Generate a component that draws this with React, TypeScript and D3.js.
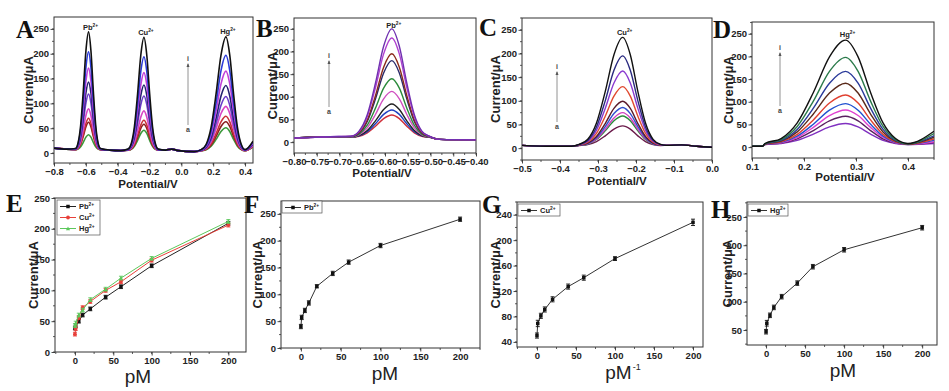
import { useEffect, useRef } from "react"
import * as d3 from "d3"

// concentrations (pM) used for curves a → i
const concentrations = [0, 1, 5, 10, 20, 40, 60, 100, 200]
const ionNames = ["Pb", "Cu", "Hg"]

// peak currents (μA) of the voltammograms, curve a → i
const aPbPeaks = [31, 56, 64, 83, 113, 137, 165, 198, 238]
const aCuPeaks = [41, 53, 61, 80, 110, 132, 157, 189, 228]
const aHgPeaks = [47, 59, 70, 90, 110, 132, 161, 193, 230]
const bPbPeaks = [50, 61, 74, 102, 130, 170, 185, 220, 240]
const cCuPeaks = [42, 63, 70, 81, 94, 125, 158, 190, 229]
const dHgPeaks = [47, 63, 77, 91, 110, 136, 162, 193, 231]

// current at the right end of the scan, curve a → i
const aTailValues = [12, 13, 14, 15, 17, 18, 20, 22, 24]
const dTailValues = [8, 10, 12, 15, 18, 22, 25, 30, 35]

// normalized peak profile (offset in half widths, relative height)
const profileOffsets = [-2.5, -2, -1.5, -1, -0.5, 0, 0.5, 1, 1.5, 2, 2.5]
const profileHeights = [0.013, 0.06, 0.21, 0.5, 0.84, 1, 0.84, 0.5, 0.21, 0.06, 0.013]

// baseline points [potential V, current μA]
const aBaseline = [[-0.8, 10], [-0.72, 8], [-0.45, 6], [-0.38, 5], [-0.1, 6], [-0.06, 8], [-0.02, 5], [0.08, 3]]
const bBaseline = [[-0.8, 9], [-0.72, 12], [-0.48, 6], [-0.4, 5]]
const cBaseline = [[-0.5, 6], [-0.42, 4], [-0.37, 4], [-0.12, 6], [-0.08, 7], [-0.04, 4], [0.0, 2]]
const dBaseline = [[0.1, 2], [0.12, 2]]

// calibration plots, current (μA) vs concentration
const ePb = [39, 43, 50, 60, 70, 89, 106, 140, 209]
const eCu = [29, 38, 56, 72, 82, 100, 114, 149, 206]
const eHg = [43, 47, 60, 68, 85, 102, 120, 152, 212]
const fPb = [40, 57, 70, 84, 115, 139, 160, 191, 240]
const gCu = [50, 69, 81, 91, 107, 127, 141, 171, 228]
const hHg = [47, 62, 76, 90, 109, 133, 162, 192, 231]
const fErr = [4, 4, 4, 4, 3, 4, 4, 4, 4]
const gErr = [4, 5, 4, 4, 4, 4, 4, 3, 5]
const hErr = [4, 5, 4, 4, 4, 4, 4, 4, 4]
const eErr = [3, 3, 3, 3, 3, 3, 3, 3, 3]

// tick values
const aXTicks = [-0.8, -0.6, -0.4, -0.2, 0.0, 0.2, 0.4]
const bXTicks = [-0.8, -0.75, -0.7, -0.65, -0.6, -0.55, -0.5, -0.45, -0.4]
const cXTicks = [-0.5, -0.4, -0.3, -0.2, -0.1, 0.0]
const dXTicks = [0.1, 0.2, 0.3, 0.4]
const voltYTicks = [0, 50, 100, 150, 200, 250]
const concXTicks = [0, 50, 100, 150, 200]
const gYTicks = [40, 80, 120, 160, 200, 240]
const hYTicks = [50, 100, 150, 200, 250]

const SANS = "'Liberation Sans', Arial, sans-serif"
const SERIF = "'Liberation Serif', 'Times New Roman', serif"

type Sel = d3.Selection<SVGGElement, unknown, null, undefined>

interface Frame {
  x0: number
  x1: number
  y0: number
  y1: number
  xDomain: [number, number]
  yDomain: [number, number]
}

function drawFrame(g: Sel, f: Frame, id: string, xTicks: number[], yTicks: number[], xFmt: (v: number) => string, minorX: number, minorY: number) {
  const x = d3.scaleLinear().domain(f.xDomain).range([f.x0, f.x1])
  const y = d3.scaleLinear().domain(f.yDomain).range([f.y1, f.y0])

  g.append("clipPath")
    .attr("id", id)
    .append("rect")
    .attr("x", f.x0)
    .attr("y", f.y0)
    .attr("width", f.x1 - f.x0)
    .attr("height", f.y1 - f.y0)

  // minor ticks
  const xm = d3.range(Math.ceil(f.xDomain[0] / minorX), Math.floor(f.xDomain[1] / minorX) + 1).map((k) => k * minorX)
  const ym = d3.range(Math.ceil(f.yDomain[0] / minorY), Math.floor(f.yDomain[1] / minorY) + 1).map((k) => k * minorY)
  g.selectAll(null)
    .data(xm)
    .enter()
    .append("line")
    .attr("x1", (d) => x(d))
    .attr("x2", (d) => x(d))
    .attr("y1", f.y1)
    .attr("y2", f.y1 + 2)
    .attr("stroke", "#333")
    .attr("stroke-width", 0.8)
  g.selectAll(null)
    .data(ym)
    .enter()
    .append("line")
    .attr("x1", f.x0)
    .attr("x2", f.x0 - 2)
    .attr("y1", (d) => y(d))
    .attr("y2", (d) => y(d))
    .attr("stroke", "#333")
    .attr("stroke-width", 0.8)

  const xAxis = g
    .append("g")
    .attr("transform", `translate(0,${f.y1})`)
    .call(d3.axisBottom(x).tickValues(xTicks).tickSize(3.5).tickSizeOuter(0).tickPadding(2).tickFormat((d) => xFmt(+d)))
  const yAxis = g
    .append("g")
    .attr("transform", `translate(${f.x0},0)`)
    .call(d3.axisLeft(y).tickValues(yTicks).tickSize(3.5).tickSizeOuter(0).tickPadding(1.5))
  ;[xAxis, yAxis].forEach((a) => {
    a.select(".domain").remove()
    a.selectAll("line").attr("stroke", "#333").attr("stroke-width", 0.9)
    a.selectAll("text")
      .attr("fill", "#222")
      .style("font-family", SANS)
      .style("font-weight", "bold")
      .style("font-size", "9.5px")
  })

  g.append("rect")
    .attr("x", f.x0)
    .attr("y", f.y0)
    .attr("width", f.x1 - f.x0)
    .attr("height", f.y1 - f.y0)
    .attr("fill", "none")
    .attr("stroke", "#333")
    .attr("stroke-width", 1)
  return { x, y }
}

function ionText(g: Sel, ion: string, px: number, py: number, size: number, anchor: string) {
  const t = g
    .append("text")
    .attr("x", px)
    .attr("y", py)
    .attr("text-anchor", anchor)
    .style("font-family", SANS)
    .style("font-weight", "bold")
    .style("font-size", `${size}px`)
    .attr("fill", "#222")
  t.append("tspan").text(ion)
  t.append("tspan").attr("dy", -size * 0.4).style("font-size", `${size * 0.65}px`).text("2+")
  return t
}

function axisTitles(g: Sel, f: Frame, yx: number, xText: string, xy: number, xSize: number, xBold: boolean, xcx?: number, sup?: string) {
  g.append("text")
    .attr("transform", `translate(${yx},${(f.y0 + f.y1) / 2}) rotate(-90)`)
    .attr("text-anchor", "middle")
    .attr("dy", "0.35em")
    .style("font-family", SANS)
    .style("font-weight", "bold")
    .style("font-size", "13px")
    .attr("fill", "#222")
    .text("Current/μA")
  const t = g
    .append("text")
    .attr("x", xcx ?? (f.x0 + f.x1) / 2)
    .attr("y", xy)
    .attr("text-anchor", "middle")
    .style("font-family", SANS)
    .style("font-weight", xBold ? "bold" : "normal")
    .style("font-size", `${xSize}px`)
    .attr("fill", "#222")
  t.append("tspan").text(xText)
  if (sup) t.append("tspan").attr("dx", 1).attr("dy", -xSize * 0.5).style("font-size", "9px").text(sup)
}

function panelLetter(g: Sel, letter: string, px: number, py: number) {
  g.append("text")
    .attr("x", px)
    .attr("y", py)
    .style("font-family", SERIF)
    .style("font-weight", "bold")
    .style("font-size", "25px")
    .attr("fill", "#111")
    .text(letter)
}

interface Peak {
  center: number
  hwL: number
  hwR: number
  base: number
  heights: number[]
  ion: string
}

function buildCurve(anchors: number[][], peaks: Peak[], idx: number, tail?: [number, number]) {
  const pts: [number, number][] = anchors.map((a) => [a[0], a[1]])
  peaks.forEach((p) => {
    profileOffsets.forEach((k, j) => {
      const hw = k < 0 ? p.hwL : p.hwR
      pts.push([p.center + k * hw, p.base + p.heights[idx] * profileHeights[j]])
    })
  })
  if (tail) pts.push(tail)
  return pts.sort((a, b) => a[0] - b[0])
}

interface VoltPanel {
  frame: Frame
  id: string
  xTicks: number[]
  fmt: (v: number) => string
  minorX: number
  anchors: number[][]
  peaks: Peak[]
  tails?: number[]
  colors: string[]
  width: number
  letter: [string, number, number]
  arrow: [number, number, number]
  yTitleX: number
  xTitleY: number
  xTitleX: number
}

function drawVolt(g: Sel, p: VoltPanel) {
  const { x, y } = drawFrame(g, p.frame, p.id, p.xTicks, voltYTicks, p.fmt, p.minorX, 25)
  const line = d3
    .line<[number, number]>()
    .x((d) => x(d[0]))
    .y((d) => y(d[1]))
    .curve(d3.curveMonotoneX)
  const cg = g.append("g").attr("clip-path", `url(#${p.id})`)
  concentrations.forEach((_, i) => {
    const tail: [number, number] | undefined = p.tails ? [p.frame.xDomain[1], p.tails[i]] : undefined
    cg.append("path")
      .attr("d", line(buildCurve(p.anchors, p.peaks, i, tail)))
      .attr("fill", "none")
      .attr("stroke", p.colors[i])
      .attr("stroke-width", p.width)
  })
  p.peaks.forEach((pk) => {
    ionText(g, pk.ion, x(pk.center) + 2, y(d3.max(pk.heights)!) - 5, 7.5, "middle")
  })
  // arrow a → i
  const [ax, top, bottom] = p.arrow
  g.append("line").attr("x1", ax).attr("x2", ax).attr("y1", top + 6).attr("y2", bottom).attr("stroke", "#777").attr("stroke-width", 0.8)
  g.append("path")
    .attr("d", `M${ax - 1.5},${top + 9} L${ax},${top + 5} L${ax + 1.5},${top + 9} Z`)
    .attr("fill", "#555")
  g.append("text").attr("x", ax).attr("y", top + 3).attr("text-anchor", "middle").style("font-family", SANS).style("font-weight", "bold").style("font-size", "7px").attr("fill", "#444").text("i")
  g.append("text").attr("x", ax).attr("y", bottom + 7).attr("text-anchor", "middle").style("font-family", SANS).style("font-weight", "bold").style("font-size", "7px").attr("fill", "#444").text("a")

  axisTitles(g, p.frame, p.yTitleX, "Potential/V", p.xTitleY, 11.5, true, p.xTitleX)
  panelLetter(g, p.letter[0], p.letter[1], p.letter[2])
}

interface CalSeries {
  ion: string
  values: number[]
  err: number[]
  color: string
  lineColor: string
  marker: "square" | "circle" | "triangle"
}

function marker(g: Sel, kind: string, cx: number, cy: number, color: string, s: number) {
  if (kind === "circle") {
    g.append("circle").attr("cx", cx).attr("cy", cy).attr("r", s * 0.55).attr("fill", color)
  } else if (kind === "triangle") {
    g.append("path")
      .attr("d", `M${cx},${cy - s * 0.6} L${cx + s * 0.6},${cy + s * 0.5} L${cx - s * 0.6},${cy + s * 0.5} Z`)
      .attr("fill", color)
  } else {
    g.append("rect").attr("x", cx - s / 2).attr("y", cy - s / 2).attr("width", s).attr("height", s).attr("fill", color)
  }
}

interface CalPanel {
  frame: Frame
  id: string
  yTicks: number[]
  minorY: number
  series: CalSeries[]
  legend: [number, number, number, number]
  letter: [string, number, number]
  yTitleX: number
  xTitleY: number
  xTitleX: number
  sup?: string
}

function drawCal(g: Sel, p: CalPanel) {
  const { x, y } = drawFrame(g, p.frame, p.id, concXTicks, p.yTicks, (v) => `${v}`, 25, p.minorY)
  const line = d3
    .line<number>()
    .x((_, i) => x(concentrations[i]))
    .y((d) => y(d))
  p.series.forEach((s) => {
    g.append("path").attr("d", line(s.values)).attr("fill", "none").attr("stroke", s.lineColor).attr("stroke-width", 1)
    s.values.forEach((v, i) => {
      const cx = x(concentrations[i])
      const e = s.err[i]
      g.append("line").attr("x1", cx).attr("x2", cx).attr("y1", y(v - e)).attr("y2", y(v + e)).attr("stroke", s.color).attr("stroke-width", 0.9)
      ;[v - e, v + e].forEach((ev) =>
        g.append("line").attr("x1", cx - 2).attr("x2", cx + 2).attr("y1", y(ev)).attr("y2", y(ev)).attr("stroke", s.color).attr("stroke-width", 0.9)
      )
      marker(g, s.marker, cx, y(v), s.color, 3.5)
    })
  })

  // legend
  const [lx, ly, lw, lh] = p.legend
  g.append("rect").attr("x", lx).attr("y", ly).attr("width", lw).attr("height", lh).attr("fill", "#fff").attr("stroke", "#555").attr("stroke-width", 0.7)
  p.series.forEach((s, i) => {
    const cy = ly + 6.5 + i * 11
    g.append("line").attr("x1", lx + 3).attr("x2", lx + 19).attr("y1", cy).attr("y2", cy).attr("stroke", s.lineColor).attr("stroke-width", 1)
    marker(g, s.marker, lx + 11, cy, s.color, 3.5)
    ionText(g, s.ion, lx + 22, cy + 2.7, 7.5, "start")
  })

  axisTitles(g, p.frame, p.yTitleX, "pM", p.xTitleY, 19, false, p.xTitleX, p.sup)
  panelLetter(g, p.letter[0], p.letter[1], p.letter[2])
}

export default function App() {
  const svgRef = useRef<SVGSVGElement>(null)

  useEffect(() => {
    if (!svgRef.current) return
    const svg = d3.select(svgRef.current)
    svg.selectAll("*").remove()
    const root = svg.append("g") as unknown as Sel

    const f1 = d3.format(".1f")
    const f2 = d3.format(".2f")

    drawVolt(root, {
      frame: { x0: 54, x1: 253, y0: 17, y1: 163, xDomain: [-0.8, 0.45], yDomain: [-20, 274] },
      id: "clipA",
      xTicks: aXTicks,
      fmt: f1,
      minorX: 0.1,
      anchors: aBaseline,
      tails: aTailValues,
      peaks: [
        { center: -0.583, hwL: 0.033, hwR: 0.03, base: 6, heights: aPbPeaks, ion: ionNames[0] },
        { center: -0.235, hwL: 0.04, hwR: 0.036, base: 5, heights: aCuPeaks, ion: ionNames[1] },
        { center: 0.28, hwL: 0.062, hwR: 0.048, base: 4, heights: aHgPeaks, ion: ionNames[2] },
      ],
      colors: ["#3c9a3c", "#8a1f1f", "#c8323a", "#d844c4", "#6a3cc8", "#22206e", "#c040d8", "#2a3ad8", "#111111"],
      width: 1.6,
      letter: ["A", 16, 38],
      arrow: [188, 58, 125],
      yTitleX: 28,
      xTitleY: 188,
      xTitleX: 148,
    })

    drawVolt(root, {
      frame: { x0: 294, x1: 476, y0: 18, y1: 153, xDomain: [-0.8, -0.4], yDomain: [-24, 274] },
      id: "clipB",
      xTicks: bXTicks,
      fmt: f2,
      minorX: 0.025,
      anchors: bBaseline,
      peaks: [{ center: -0.585, hwL: 0.036, hwR: 0.033, base: 10, heights: bPbPeaks, ion: ionNames[0] }],
      colors: ["#d0303a", "#2040c0", "#222222", "#d050c0", "#2a8a3a", "#2a2a6a", "#8a2a1a", "#b040d0", "#7030b0"],
      width: 1.4,
      letter: ["B", 256, 37],
      arrow: [329, 55, 107],
      yTitleX: 272,
      xTitleY: 177,
      xTitleX: 382,
    })

    drawVolt(root, {
      frame: { x0: 522, x1: 712, y0: 18, y1: 160, xDomain: [-0.5, 0.0], yDomain: [-25, 275] },
      id: "clipC",
      xTicks: cXTicks,
      fmt: f1,
      minorX: 0.05,
      anchors: cBaseline,
      peaks: [{ center: -0.235, hwL: 0.046, hwR: 0.04, base: 5, heights: cCuPeaks, ion: ionNames[1] }],
      colors: ["#6a1a4a", "#2a8a3a", "#d040c0", "#3050d0", "#5a1a2a", "#e04a30", "#8a3ad0", "#2a2a80", "#111111"],
      width: 1.4,
      letter: ["C", 479, 36],
      arrow: [557, 66, 122],
      yTitleX: 495,
      xTitleY: 185,
      xTitleX: 617,
    })

    drawVolt(root, {
      frame: { x0: 752, x1: 934, y0: 22, y1: 158, xDomain: [0.1, 0.45], yDomain: [-24, 276] },
      id: "clipD",
      xTicks: dXTicks,
      fmt: f1,
      minorX: 0.05,
      anchors: dBaseline,
      tails: dTailValues,
      peaks: [{ center: 0.28, hwL: 0.062, hwR: 0.048, base: 5, heights: dHgPeaks, ion: ionNames[2] }],
      colors: ["#8030c0", "#5a2060", "#e040d0", "#2050d0", "#e04030", "#5a2a1a", "#2a3a9a", "#2a7a4a", "#111111"],
      width: 1.4,
      letter: ["D", 713, 38],
      arrow: [780, 47, 106],
      yTitleX: 728,
      xTitleY: 181,
      xTitleX: 845,
    })

    drawCal(root, {
      frame: { x0: 55, x1: 246, y0: 198, y1: 352, xDomain: [-26, 223], yDomain: [0, 250] },
      id: "clipE",
      yTicks: voltYTicks,
      minorY: 25,
      series: [
        { ion: ionNames[0], values: ePb, err: eErr, color: "#111", lineColor: "#222", marker: "square" },
        { ion: ionNames[1], values: eCu, err: eErr, color: "#e8403a", lineColor: "#e8403a", marker: "circle" },
        { ion: ionNames[2], values: eHg, err: eErr, color: "#5cc85c", lineColor: "#5cc85c", marker: "triangle" },
      ],
      legend: [57, 200, 43, 35],
      letter: ["E", 6, 212],
      yTitleX: 33,
      xTitleY: 383,
      xTitleX: 138,
    })

    drawCal(root, {
      frame: { x0: 281, x1: 480, y0: 201, y1: 348, xDomain: [-25, 225], yDomain: [0, 274] },
      id: "clipF",
      yTicks: voltYTicks,
      minorY: 25,
      series: [{ ion: ionNames[0], values: fPb, err: fErr, color: "#111", lineColor: "#333", marker: "square" }],
      legend: [282, 201, 40, 12],
      letter: ["F", 244, 213],
      yTitleX: 257,
      xTitleY: 380,
      xTitleX: 385,
    })

    drawCal(root, {
      frame: { x0: 517, x1: 703, y0: 202, y1: 347, xDomain: [-25.6, 212.8], yDomain: [32, 260] },
      id: "clipG",
      yTicks: gYTicks,
      minorY: 20,
      series: [{ ion: ionNames[1], values: gCu, err: gErr, color: "#111", lineColor: "#333", marker: "square" }],
      legend: [518, 204, 42, 12],
      letter: ["G", 482, 213],
      yTitleX: 495,
      xTitleY: 379,
      xTitleX: 623,
      sup: "-1",
    })

    drawCal(root, {
      frame: { x0: 747, x1: 937, y0: 202, y1: 345, xDomain: [-24.4, 219], yDomain: [23.5, 276.5] },
      id: "clipH",
      yTicks: hYTicks,
      minorY: 25,
      series: [{ ion: ionNames[2], values: hHg, err: hErr, color: "#111", lineColor: "#333", marker: "square" }],
      legend: [748, 204, 40, 12],
      letter: ["H", 711, 218],
      yTitleX: 727,
      xTitleY: 377,
      xTitleX: 843,
    })
  }, [])

  return (
    <svg
      ref={svgRef}
      width={949}
      height={391}
      style={{ position: "absolute", left: 0, top: 0, background: "#fff" }}
    ></svg>
  )
}
